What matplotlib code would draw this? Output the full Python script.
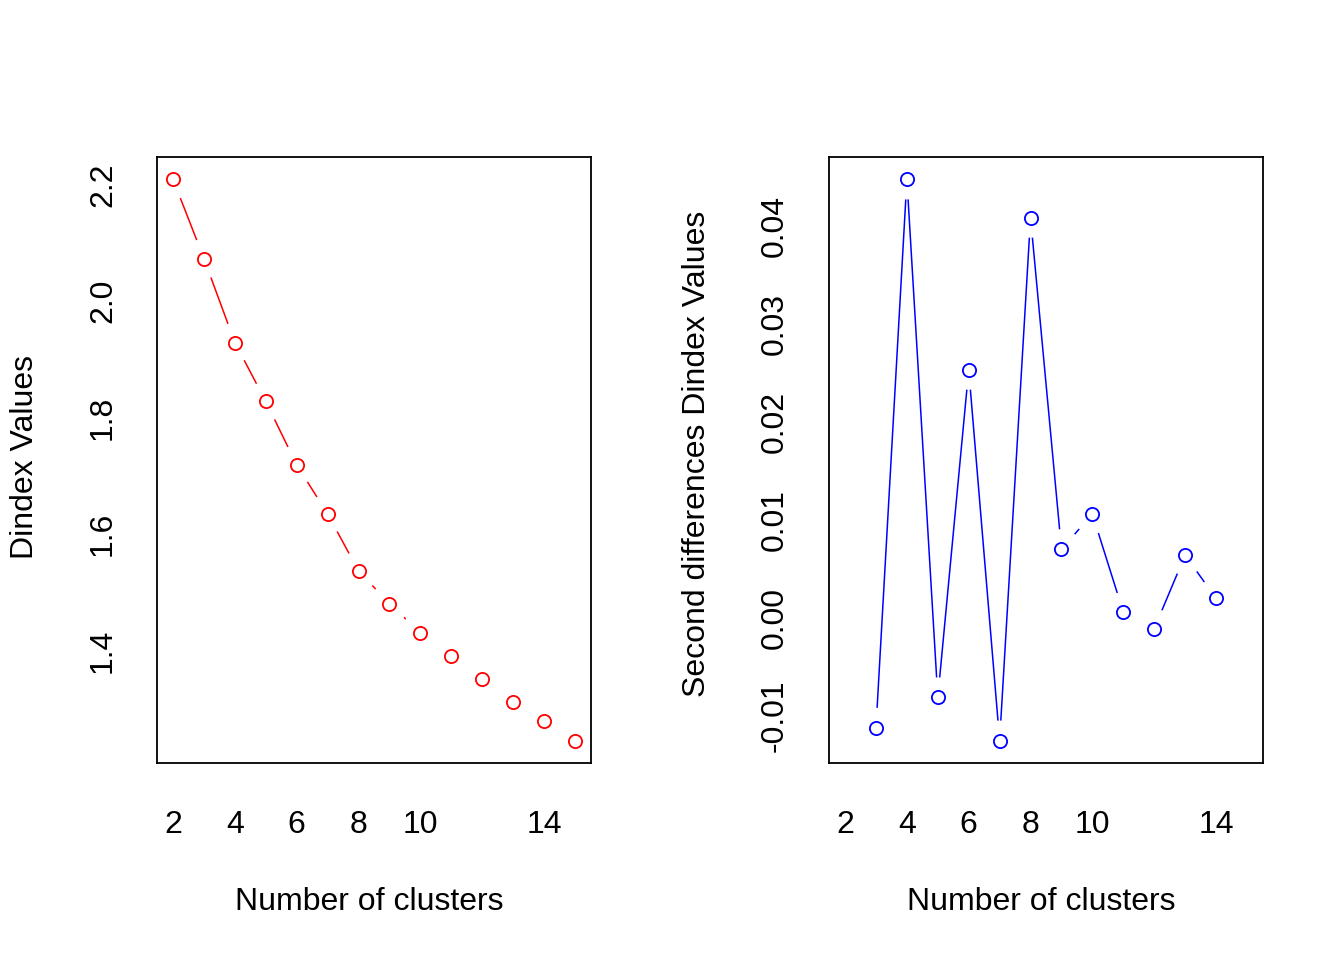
import matplotlib
matplotlib.use("Agg")
import matplotlib.pyplot as plt
import numpy as np

plt.rcParams['font.family'] = ['Liberation Sans', 'DejaVu Sans']

# number of clusters and the two index series
clusters = [2, 3, 4, 5, 6, 7, 8, 9, 10, 11, 12, 13, 14, 15]
dindex = [2.209, 2.073, 1.929, 1.828, 1.719, 1.635, 1.537, 1.481,
          1.431, 1.391, 1.352, 1.313, 1.280, 1.246]

clusters2 = [3, 4, 5, 6, 7, 8, 9, 10, 11, 12, 13, 14]
second_diff = [-0.0112, 0.0447, -0.0081, 0.0253, -0.0125, 0.0408,
               0.0070, 0.0106, 0.0006, -0.0011, 0.0064, 0.0020]

xticks = [2, 4, 6, 8, 10, 14]
yticks_left = [1.4, 1.6, 1.8, 2.0, 2.2]
yticks_right = [-0.01, 0.00, 0.01, 0.02, 0.03, 0.04]

fig = plt.figure(figsize=(13.44, 9.6), dpi=100)
W, H = 1344, 960


def r_range(v):
    lo, hi = min(v), max(v)
    d = (hi - lo) * 0.04
    return lo - d, hi + d


def type_b(ax, x, y, color, gap=20):
    # lines between points with a gap around each point, like R type="b"
    pts = ax.transData.transform(np.column_stack([x, y]))
    inv = ax.transData.inverted()
    for i in range(len(pts) - 1):
        p, q = pts[i], pts[i + 1]
        d = q - p
        L = np.hypot(*d)
        if L <= 2 * gap:
            continue
        u = d / L
        a = inv.transform(p + u * gap)
        b = inv.transform(q - u * gap)
        ax.plot([a[0], b[0]], [a[1], b[1]], color=color, lw=1.1,
                solid_capstyle='butt')
    ax.plot(x, y, 'o', mfc='none', mec=color, ms=9.5, mew=1.3, ls='none')


def setup(ax, ys, yt, fmt):
    ax.set_xlim(1.48, 15.52)
    ax.set_ylim(r_range(ys))
    ax.set_xticks(xticks)
    ax.set_yticks(yt)
    ax.set_yticklabels([fmt.format(v) for v in yt], rotation=90, va='center')
    ax.tick_params(axis='both', length=0, labelsize=23)
    ax.tick_params(axis='x', pad=34)
    ax.tick_params(axis='y', pad=28)
    for s in ax.spines.values():
        s.set_linewidth(1.3)


ax1 = fig.add_axes([157 / W, 1 - 763 / H, 434 / W, 606 / H])
setup(ax1, dindex, yticks_left, '{:.1f}')
type_b(ax1, clusters, dindex, '#FF0000')

ax2 = fig.add_axes([829 / W, 1 - 763 / H, 434 / W, 606 / H])
setup(ax2, second_diff, yticks_right, '{:.2f}')
type_b(ax2, clusters2, second_diff, '#0000FF')

fig.text(369 / W, 1 - 902 / H, 'Number of clusters', fontsize=23,
         ha='center', va='center')
fig.text(1041 / W, 1 - 902 / H, 'Number of clusters', fontsize=23,
         ha='center', va='center')
fig.text(25 / W, 1 - 457 / H, 'Dindex Values', fontsize=23,
         rotation=90, ha='center', va='center')
fig.text(697 / W, 1 - 454 / H, 'Second differences Dindex Values',
         fontsize=23, rotation=90, ha='center', va='center')

fig.savefig('out.png', dpi=100)
